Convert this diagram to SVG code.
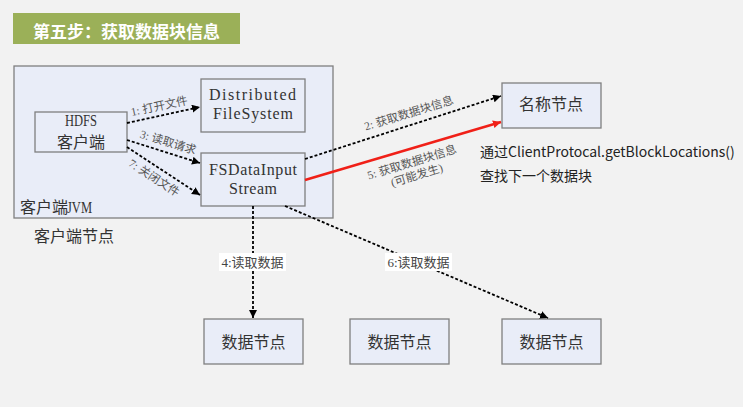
<svg xmlns="http://www.w3.org/2000/svg" width="743" height="407" viewBox="0 0 743 407">
<style>
.box{fill:#E9EDF8;stroke:#7F7F7F;stroke-width:1.3}
.m{font-family:"Liberation Serif","Noto Sans CJK SC",serif;font-size:16px;fill:#333}
.c{font-family:"Noto Sans CJK SC",sans-serif;font-size:16px;fill:#333}
.lb{font-family:"Liberation Serif","Noto Sans CJK SC",serif;font-size:11.5px;fill:#555}
.lb2{font-family:"Liberation Serif","Noto Sans CJK SC",serif;font-size:13px;fill:#444}
.d{fill:none;stroke:#000;stroke-width:1.8;stroke-dasharray:3,2}
.s{font-family:"Noto Sans CJK SC",sans-serif;font-size:14px;fill:#222}
</style>
<defs>
<marker id="ah" markerWidth="10" markerHeight="10" refX="8" refY="4" orient="auto" markerUnits="userSpaceOnUse">
<path d="M0,0 L8,4 L0,8 Z" fill="#000"/>
</marker>
<marker id="ar" markerWidth="10" markerHeight="10" refX="8" refY="4" orient="auto" markerUnits="userSpaceOnUse">
<path d="M0,0 L8,4 L0,8 Z" fill="#F02018"/>
</marker>
</defs>
<rect width="743" height="407" fill="#F2F2F2"/>
<g id="title">
<rect x="13" y="13" width="227" height="31" fill="#9BB058"/>
<text x="33" y="37.5" font-family="Noto Sans CJK SC,sans-serif" font-size="17" font-weight="bold" fill="#FFFFFF">第五步：获取数据块信息</text>
</g>
<g id="jvm">
<rect x="14" y="66" width="319" height="152" class="box"/>
<text x="20" y="213" class="c">客户端</text>
<text x="67" y="213" class="m" textLength="25" lengthAdjust="spacingAndGlyphs">JVM</text>
</g>
<g id="clientnode"><text x="34" y="242" class="c">客户端节点</text></g>
<g id="hdfs">
<rect x="35" y="112" width="92" height="40" class="box"/>
<text x="65" y="126" class="m" textLength="32" lengthAdjust="spacingAndGlyphs">HDFS</text>
<text x="81" y="148" class="c" text-anchor="middle">客户端</text>
</g>
<g id="dfs">
<rect x="201" y="79" width="104" height="53" class="box"/>
<text x="209" y="100" class="m" textLength="87">Distributed</text>
<text x="213" y="119" class="m" textLength="80">FileSystem</text>
</g>
<g id="fsdis">
<rect x="201" y="153" width="104" height="53" class="box"/>
<text x="209" y="175" class="m" textLength="88">FSDataInput</text>
<text x="229" y="194" class="m" textLength="48">Stream</text>
</g>
<g id="namenode">
<rect x="502" y="83" width="99" height="45" class="box"/>
<text x="551" y="110" class="c" text-anchor="middle">名称节点</text>
</g>
<g id="dn1">
<rect x="204" y="319" width="99" height="45" class="box"/>
<text x="253.5" y="348" class="c" text-anchor="middle">数据节点</text>
</g>
<g id="dn2">
<rect x="350" y="319" width="99" height="45" class="box"/>
<text x="399.5" y="348" class="c" text-anchor="middle">数据节点</text>
</g>
<g id="dn3">
<rect x="502" y="319" width="99" height="45" class="box"/>
<text x="551.5" y="348" class="c" text-anchor="middle">数据节点</text>
</g>
<g id="note">
<text x="480" y="157" class="s">通过ClientProtocal.getBlockLocations()</text>
<text x="480" y="181" class="s">查找下一个数据块</text>
</g>
<g id="connectors">
<line x1="127" y1="123" x2="200" y2="107" class="d" marker-end="url(#ah)"/>
<line x1="127" y1="140" x2="200" y2="163" class="d" marker-end="url(#ah)"/>
<line x1="127" y1="147" x2="200" y2="195" class="d" marker-end="url(#ah)"/>
<line x1="305" y1="159" x2="501" y2="96" class="d" marker-end="url(#ah)"/>
<line x1="305" y1="180" x2="501" y2="122" stroke="#F02018" stroke-width="2.5" marker-end="url(#ar)"/>
<line x1="253" y1="206" x2="253" y2="318" class="d" marker-end="url(#ah)"/>
<line x1="285" y1="206" x2="548" y2="318" class="d" marker-end="url(#ah)"/>
<text class="lb" transform="translate(160,110) rotate(-12)" text-anchor="middle">1: 打开文件</text>
<text class="lb" transform="translate(167,146) rotate(17)" text-anchor="middle">3: 读取请求</text>
<text class="lb" transform="translate(152,181) rotate(33)" text-anchor="middle">7: 关闭文件</text>
<text class="lb" transform="translate(410,117) rotate(-17)" text-anchor="middle">2: 获取数据块信息</text>
<text class="lb" transform="translate(413,166) rotate(-17)" text-anchor="middle">5: 获取数据块信息</text>
<text class="lb" transform="translate(418,179) rotate(-17)" text-anchor="middle">(可能发生)</text>
<rect x="219" y="253" width="67" height="18" fill="#FFFFFF"/>
<text x="252.5" y="267" class="lb2" text-anchor="middle">4:读取数据</text>
<rect x="385" y="253" width="67" height="18" fill="#FFFFFF"/>
<text x="418.5" y="267" class="lb2" text-anchor="middle">6:读取数据</text>
</g>
</svg>
